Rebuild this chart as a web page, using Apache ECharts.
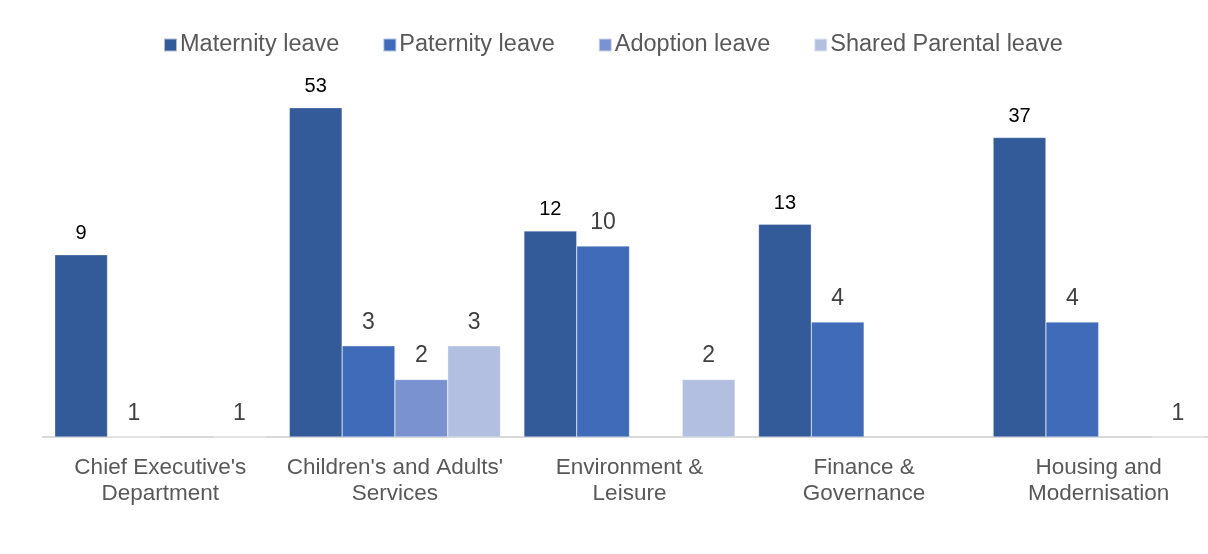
<!DOCTYPE html>
<html>
<head>
<meta charset="utf-8">
<script src="https://cdn.jsdelivr.net/npm/echarts@6/dist/echarts.min.js"></script>
<style>
  html, body { margin: 0; padding: 0; background: #fff; }
  #chart { width: 1208px; height: 554px; }
</style>
</head>
<body>
<div id="chart"></div>
<script>
// departments along the x axis
const categories = [
  "Chief Executive's\nDepartment",
  "Children's and Adults'\nServices",
  "Environment &\nLeisure",
  "Finance &\nGovernance",
  "Housing and\nModernisation"
];
const maternity = [9, 53, 12, 13, 37];
const paternity = [1, 3, 10, 4, 4];
const adoption = [null, 2, null, null, null];
const shared = [1, 3, 2, null, 1];

const font = "Liberation Sans, Arial, sans-serif";

function bar(name, data, color, labelStyle) {
  return {
    name: name,
    type: "bar",
    data: data,
    barGap: 0,
    barCategoryGap: "10%",
    itemStyle: { color: color, borderColor: "rgba(255,255,255,0.6)", borderWidth: 0.5 },
    label: Object.assign({ show: true, position: "top", fontFamily: font }, labelStyle)
  };
}

const otherLabel = { color: "#404040", fontSize: 23, distance: 12 };

const chart = echarts.init(document.getElementById("chart"));
chart.setOption({
  animation: false,
  legend: {
    top: 33,
    left: 163,
    padding: 0,
    itemWidth: 13,
    itemHeight: 13,
    itemGap: 43,
    icon: "rect",
    textStyle: { color: "#595959", fontSize: 23.5, fontFamily: font, padding: [0, 0, 0, -2] }
  },
  grid: { left: 43, width: 1173, top: 55, bottom: 117, outerBoundsMode: "none" },
  xAxis: {
    type: "category",
    data: categories,
    axisLine: { lineStyle: { color: "#d9d9d9", width: 2 } },
    axisTick: { show: false },
    axisLabel: {
      color: "#595959",
      fontSize: 22.5,
      fontFamily: font,
      lineHeight: 26,
      margin: 18,
      interval: 0
    }
  },
  yAxis: {
    type: "log",
    min: 1,
    max: 100,
    show: false,
    splitLine: { show: false }
  },
  series: [
    bar("Maternity leave", maternity, "#335a99", { color: "#000", fontSize: 20, distance: 11 }),
    bar("Paternity leave", paternity, "#3f6bb8", otherLabel),
    bar("Adoption leave", adoption, "#7a92cf", otherLabel),
    bar("Shared Parental leave", shared, "#b3bfe0", otherLabel)
  ]
});
</script>
</body>
</html>
